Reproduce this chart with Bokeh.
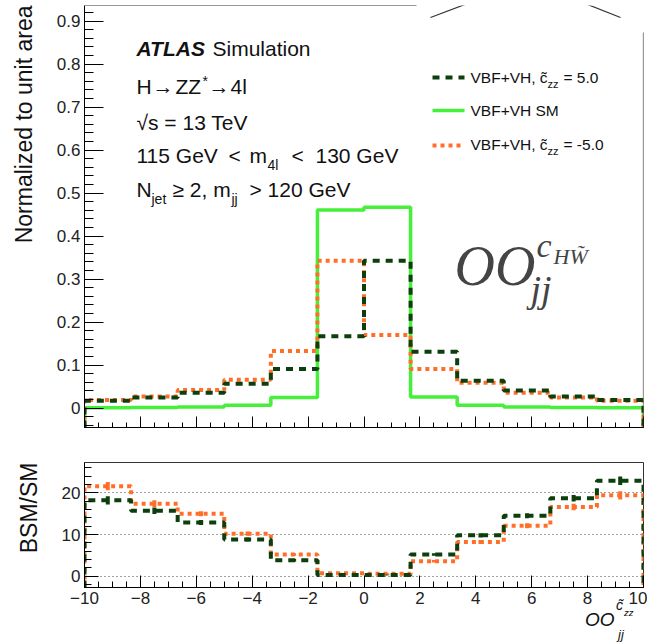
import numpy as np
from math import pi
from bokeh.plotting import figure
from bokeh.layouts import column
from bokeh.models import Label, SingleIntervalTicker, Arrow, Range1d, Title, Div
from bokeh.embed import file_html
from bokeh.resources import INLINE

# ---------------- data ----------------
bin_edges = [-10, -25/3, -20/3, -5, -10/3, -5/3, 0, 5/3, 10/3, 5, 20/3, 25/3, 10]
sm_vals   = [0.001, 0.0016, 0.0028, 0.0065, 0.025, 0.461, 0.467, 0.026, 0.0066, 0.0028, 0.0015, 0.0008]
pos5_vals = [0.017, 0.025, 0.036, 0.057, 0.091, 0.167, 0.343, 0.131, 0.064, 0.041, 0.027, 0.019]
neg5_vals = [0.019, 0.027, 0.042, 0.066, 0.133, 0.343, 0.170, 0.091, 0.059, 0.036, 0.025, 0.017]
ratio_pos5 = [18.2, 15.7, 12.9, 8.8, 3.8, 0.3, 0.3, 5.2, 9.8, 14.5, 18.7, 22.9]
ratio_neg5 = [21.6, 17.4, 15.0, 10.2, 5.2, 0.7, 0.6, 3.6, 8.2, 12.1, 16.6, 19.4]
ratio_err_pos5 = [1.0, 0.8, 0.6, 0.5, 0.3, 0.1, 0.1, 0.3, 0.5, 0.6, 0.8, 1.0]
ratio_err_neg5 = [1.0, 0.8, 0.6, 0.5, 0.3, 0.1, 0.1, 0.3, 0.5, 0.6, 0.8, 1.0]
x_ticks = [-10, -8, -6, -4, -2, 0, 2, 4, 6, 8, 10]
x_tick_labels = ["\u221210", "\u22128", "\u22126", "\u22124", "\u22122", "0", "2", "4", "6", "8", "10"]

C_POS = "#0c3f0c"
C_SM = "#46f03a"
C_NEG = "#ff6f2a"
FONT = "Liberation Sans"

# ---------------- geometry ----------------
W = 647
FL, FR = 84, 643
U_TOP, U_BOT = 5, 427
U_Y0, U_Y1 = -0.045, 0.9365
L_TOP, L_BOT = 462, 587
L_Y0, L_Y1 = -2.71, 27.27
BASE_SHIFT = 0.37   # text anchor correction (fraction of font size)


def ux(px):
    return -10 + (px - FL) * 20.0 / (FR - FL)


def uy(py):
    return U_Y0 + (U_BOT - py) * (U_Y1 - U_Y0) / (U_BOT - U_TOP)


def step_xy(edges, vals, floor):
    xs, ys = [edges[0]], [floor]
    for i, v in enumerate(vals):
        xs += [edges[i], edges[i + 1]]
        ys += [v, v]
    xs.append(edges[-1])
    ys.append(floor)
    return xs, ys


def style_axes(p, xmaj, xmin, ymaj, ymin):
    for ax in (p.xaxis[0], p.yaxis[0]):
        ax.axis_line_color = "black"
        ax.axis_line_width = 1
        ax.major_tick_out = 0
        ax.minor_tick_out = 0
        ax.major_tick_line_color = "black"
        ax.minor_tick_line_color = "black"
        ax.major_label_text_font = FONT
        ax.major_label_text_font_size = "17px"
        ax.major_label_text_color = "#222"
        ax.major_label_standoff = 4
    p.xaxis[0].major_tick_in = xmaj
    p.xaxis[0].minor_tick_in = xmin
    p.yaxis[0].major_tick_in = ymaj
    p.yaxis[0].minor_tick_in = ymin
    # small invisible spacer so that the side title sits further out
    p.yaxis[0].axis_label = "\u00a0"
    p.yaxis[0].axis_label_text_font_size = "1px"
    p.yaxis[0].axis_label_standoff = 8


def lab(p, px, py, text, size, style="normal", font=FONT, color="#111"):
    p.add_layout(Label(x=ux(px), y=uy(py - BASE_SHIFT * size), text=text, text_font=font,
                       text_font_size=f"{size}px", text_font_style=style,
                       text_color=color, text_align="left",
                       text_baseline="alphabetic"))


def side_title(p, text):
    t = Title(text=text, align="right", text_font=FONT, text_font_size="23px",
              text_font_style="normal", text_color="#111")
    p.add_layout(t, "left")


# ---------------- upper panel ----------------
p1 = figure(width=W, height=440, output_backend="svg", toolbar_location=None,
            x_range=Range1d(-10, 10), y_range=Range1d(U_Y0, U_Y1),
            min_border_left=FL, min_border_right=W - FR,
            min_border_top=U_TOP, min_border_bottom=440 - U_BOT)
p1.outline_line_color = None
p1.grid.visible = False
p1.background_fill_color = "white"
p1.border_fill_color = "white"
p1.xaxis.ticker = SingleIntervalTicker(interval=2, num_minor_ticks=4)
p1.yaxis.ticker = SingleIntervalTicker(interval=0.1, num_minor_ticks=5)
style_axes(p1, 11, 5, 19, 9)
p1.xaxis.major_label_overrides = {t: "" for t in x_ticks}
p1.xaxis.major_label_standoff = 0
p1.yaxis.major_label_overrides = {0: "0"}

xs, ys = step_xy(bin_edges, sm_vals, U_Y0)
p1.line(xs, ys, line_color=C_SM, line_width=3.5)
xs, ys = step_xy(bin_edges, neg5_vals, U_Y0)
p1.line(xs, ys, line_color=C_NEG, line_width=4, line_dash="4 4")
xs, ys = step_xy(bin_edges, pos5_vals, U_Y0)
p1.line(xs, ys, line_color=C_POS, line_width=4, line_dash="7 6")

# partial frame (top and right edges)
for (a, b, c, d) in [(FL, U_TOP, 416, U_TOP), (FR, 32, FR, U_BOT),
                     (430, 17, 475, 0), (577, 0, 620, 17)]:
    p1.add_layout(Arrow(end=None, x_start=ux(a), y_start=uy(b), x_end=ux(c), y_end=uy(d),
                        line_color="#333", line_width=1.2))

# legend
for yy, col, dash, w in [(77, C_POS, "7 6", 4), (110, C_SM, "solid", 3.5), (145, C_NEG, "4 4", 4)]:
    p1.line([ux(432), ux(464)], [uy(yy), uy(yy)], line_color=col, line_width=w, line_dash=dash)
lab(p1, 470, 83, "VBF+VH, c\u0303", 15.5)
lab(p1, 547, 88, "zz", 11)
lab(p1, 563, 83, " = 5.0", 15.5)
lab(p1, 470, 116, "VBF+VH SM", 15.5)
lab(p1, 470, 150, "VBF+VH, c\u0303", 15.5)
lab(p1, 547, 155, "zz", 11)
lab(p1, 563, 150, " = -5.0", 15.5)

# ATLAS block
lab(p1, 136, 56, "ATLAS", 21, style="bold italic")
lab(p1, 212, 56, "Simulation", 21)
lab(p1, 136, 94, "H", 21)
lab(p1, 152, 94, "\u2192", 21)
lab(p1, 175, 94, "ZZ", 21)
lab(p1, 202, 86, "*", 14)
lab(p1, 208, 94, "\u2192", 21)
lab(p1, 230, 94, "4l", 21)
lab(p1, 136, 130, "\u221as = 13 TeV", 21)
lab(p1, 136, 163, "115 GeV", 21)
lab(p1, 228, 163, "<", 21)
lab(p1, 249, 163, "m", 21)
lab(p1, 267, 170, "4l", 14)
lab(p1, 291, 163, "<", 21)
lab(p1, 315, 163, "130 GeV", 21)
lab(p1, 136, 197, "N", 21)
lab(p1, 151, 204, "jet", 14)
lab(p1, 172, 197, "\u2265 2, m", 21)
lab(p1, 231, 204, "jj", 14)
lab(p1, 249, 197, "> 120 GeV", 21)

# observable label
SERIF = "Liberation Serif"
lab(p1, 454, 286, "OO", 56, style="italic", font=SERIF, color="#444")
lab(p1, 536, 258, "c", 34, style="italic", font=SERIF, color="#444")
lab(p1, 553, 264, "HW\u0303", 22, style="italic", font=SERIF, color="#444")
lab(p1, 530, 303, "jj", 38, style="italic", font=SERIF, color="#444")

side_title(p1, "Normalized to unit area")

# ---------------- lower panel ----------------
H2 = 644 - 440
p2 = figure(width=W, height=H2, output_backend="svg", toolbar_location=None,
            x_range=Range1d(-10, 10), y_range=Range1d(L_Y0, L_Y1),
            min_border_left=FL, min_border_right=W - FR,
            min_border_top=L_TOP - 440, min_border_bottom=644 - L_BOT)
p2.outline_line_color = "#333"
p2.background_fill_color = "white"
p2.border_fill_color = "white"
p2.xgrid.visible = False
p2.xaxis.ticker = SingleIntervalTicker(interval=2, num_minor_ticks=4)
p2.yaxis.ticker = SingleIntervalTicker(interval=10, num_minor_ticks=5)
style_axes(p2, 12, 6, 14, 7)
p2.xaxis.major_label_overrides = {t: l for t, l in zip(x_ticks, x_tick_labels)}
p2.ygrid.grid_line_color = "#444"
p2.ygrid.grid_line_dash = "1 3"
p2.ygrid.grid_line_width = 1.2

centers = [(bin_edges[i] + bin_edges[i + 1]) / 2 for i in range(len(bin_edges) - 1)]
xs, ys = step_xy(bin_edges, ratio_neg5, L_Y0)
p2.line(xs, ys, line_color=C_NEG, line_width=4, line_dash="4 4")
p2.segment(centers, [v - e for v, e in zip(ratio_neg5, ratio_err_neg5)],
           centers, [v + e for v, e in zip(ratio_neg5, ratio_err_neg5)],
           line_color=C_NEG, line_width=4)
xs, ys = step_xy(bin_edges, ratio_pos5, L_Y0)
p2.line(xs, ys, line_color=C_POS, line_width=4, line_dash="7 6")
p2.segment(centers, [v - e for v, e in zip(ratio_pos5, ratio_err_pos5)],
           centers, [v + e for v, e in zip(ratio_pos5, ratio_err_pos5)],
           line_color=C_POS, line_width=4)

side_title(p2, "BSM/SM")

# x-axis title (overlaid at bottom right)
xt_html = (
    '<div style="position:relative;width:62px;height:54px;'
    "font-family:'Liberation Sans';font-style:italic;color:#111;\">"
    '<span style="position:absolute;left:0px;top:22px;font-size:19px;line-height:16px">OO</span>'
    '<span style="position:absolute;left:31px;top:9px;font-size:14px;line-height:12px">c\u0303</span>'
    '<span style="position:absolute;left:39px;top:18px;font-size:9.5px;line-height:9px">zz</span>'
    '<span style="position:absolute;left:33px;top:39px;font-size:13px;line-height:12px">jj</span>'
    '</div>'
)
xtitle = Div(text=xt_html, width=62, height=54, margin=(-54, 0, 0, 585))

layout = column(p1, p2, xtitle, spacing=0)
open("out.html", "w").write(file_html(layout, INLINE))
